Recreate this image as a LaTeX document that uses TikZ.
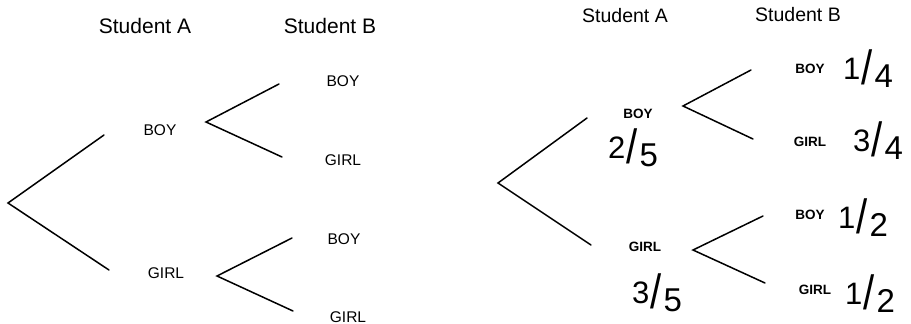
\documentclass[tikz,border=0pt]{standalone}
\usepackage{fontspec}
\setmainfont{Liberation Sans}
\usepackage{graphicx}
% hand-written style fraction: raised numerator, tall slash, lowered denominator
\newcommand{\handfrac}[2]{\raisebox{5pt}{\fontsize{31}{31}\selectfont #1}\kern1.5pt
  \scalebox{1}[1.2]{\fontsize{40}{40}\selectfont /}\kern1.5pt
  \raisebox{-3pt}{\fontsize{33}{33}\selectfont #2}}
\begin{document}
\begin{tikzpicture}[x=1pt,y=-1pt,
  branch/.style={line width=1.5pt,line cap=round},
  head/.style={font=\fontsize{21}{21}\selectfont,inner sep=0pt},
  headR/.style={font=\fontsize{19.5}{19.5}\selectfont,inner sep=0pt},
  lab/.style={font=\fontsize{15.5}{15.5}\selectfont,inner sep=0pt},
  labR/.style={font=\bfseries\fontsize{13.5}{13.5}\selectfont,inner sep=0pt},
  prob/.style={inner sep=0pt}]
\useasboundingbox (0,0) rectangle (911,324);

% ---- left tree (blank) ----
\node[head] (lha) at (145,26) {Student A};
\node[head] (lhb) at (330,26) {Student B};
\node[lab] (la1) at (160,130) {BOY};
\node[lab] (la2) at (166,273) {GIRL};
\node[lab] (lb1) at (343,81) {BOY};
\node[lab] (lb2) at (343,160) {GIRL};
\node[lab] (lb3) at (344,239) {BOY};
\node[lab] (lb4) at (348,317) {GIRL};

\coordinate (lr) at (8,203);
\coordinate (lr1) at (104,135);
\coordinate (lr2) at (109,270);
\coordinate (lu) at (206,122);
\coordinate (lu1) at (279,84);
\coordinate (lu2) at (282,157);
\coordinate (ld) at (217,276);
\coordinate (ld1) at (292,238);
\coordinate (ld2) at (293,311);
\draw[branch] (lr1) -- (lr) -- (lr2);
\draw[branch] (lu1) -- (lu) -- (lu2);
\draw[branch] (ld1) -- (ld) -- (ld2);

% ---- right tree (with probabilities) ----
\node[headR] (rha) at (625,16) {Student A};
\node[headR] (rhb) at (798,15) {Student B};
\node[labR] (ra1) at (638,114) {BOY};
\node[labR] (ra2) at (645,247) {GIRL};
\node[labR] (rb1) at (810,69) {BOY};
\node[labR] (rb2) at (810,142) {GIRL};
\node[labR] (rb3) at (810,215) {BOY};
\node[labR] (rb4) at (815,290) {GIRL};

\node[prob] (pa1) at (633,148) {\handfrac{2}{5}};
\node[prob] (pa2) at (657,293) {\handfrac{3}{5}};
\node[prob] (pb1) at (868,69) {\handfrac{1}{4}};
\node[prob] (pb2) at (878,141) {\handfrac{3}{4}};
\node[prob] (pb3) at (863,218) {\handfrac{1}{2}};
\node[prob] (pb4) at (870,294) {\handfrac{1}{2}};

\coordinate (rr) at (498,183);
\coordinate (rr1) at (587,118);
\coordinate (rr2) at (591,245);
\coordinate (ru) at (683,106);
\coordinate (ru1) at (751,70);
\coordinate (ru2) at (753,139);
\coordinate (rd) at (693,250);
\coordinate (rd1) at (763,216);
\coordinate (rd2) at (765,283);
\draw[branch] (rr1) -- (rr) -- (rr2);
\draw[branch] (ru1) -- (ru) -- (ru2);
\draw[branch] (rd1) -- (rd) -- (rd2);
\end{tikzpicture}
\end{document}
